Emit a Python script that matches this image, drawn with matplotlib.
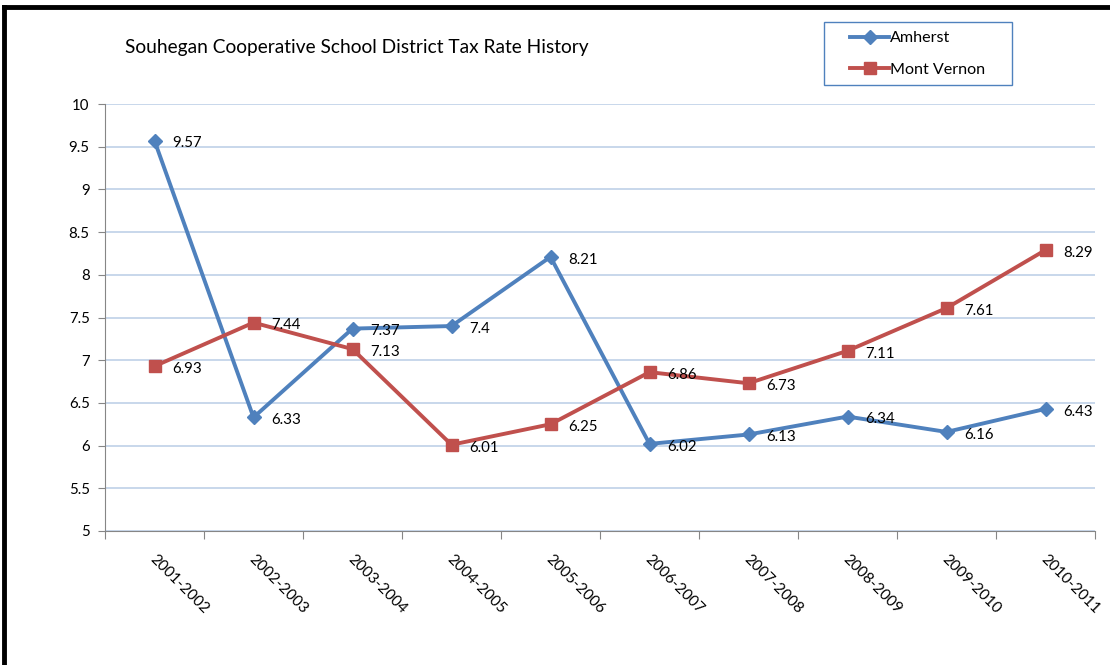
import matplotlib.pyplot as plt
import numpy as np
from matplotlib.lines import Line2D
from matplotlib.patches import Rectangle

plt.rcParams['font.family'] = ['Lato', 'DejaVu Sans']

years = ['2001-2002', '2002-2003', '2003-2004', '2004-2005', '2005-2006',
         '2006-2007', '2007-2008', '2008-2009', '2009-2010', '2010-2011']
amherst = [9.57, 6.33, 7.37, 7.4, 8.21, 6.02, 6.13, 6.34, 6.16, 6.43]
mont_vernon = [6.93, 7.44, 7.13, 6.01, 6.25, 6.86, 6.73, 7.11, 7.61, 8.29]

blue = '#4F81BD'
red = '#C0504D'

W, H = 1110, 665
fig = plt.figure(figsize=(W / 100, H / 100), dpi=100, facecolor='white')
ax = fig.add_axes([105 / W, 1 - 531 / H, 990 / W, 427 / H])

x = np.arange(len(years))
ax.set_xlim(-0.5, len(years) - 0.5)
ax.set_ylim(5, 10)
ax.set_yticks(np.arange(5, 10.01, 0.5))
ax.set_yticklabels(['5', '5.5', '6', '6.5', '7', '7.5', '8', '8.5', '9', '9.5', '10'])

# rejilla
ax.grid(True, axis='y', color='#B9CDE5', linewidth=1.1)
ax.set_axisbelow(True)
for s in ['top', 'right']:
    ax.spines[s].set_visible(False)
ax.spines['left'].set_color('#868686')
ax.spines['bottom'].set_color('#868686')
ax.tick_params(axis='y', length=5, color='#868686', labelsize=10.8, pad=6)

# ticks entre categorias
ax.set_xticks(np.arange(-0.5, len(years), 1.0))
ax.set_xticklabels([])
ax.tick_params(axis='x', length=6, color='#868686')
for i, lab in enumerate(years):
    ax.text(i + 0.03, -0.05, lab, transform=ax.get_xaxis_transform(), rotation=-45,
            rotation_mode='anchor', ha='left', va='top', fontsize=11)

ax.plot(x, amherst, color=blue, linewidth=2.8, marker='D', markersize=7, zorder=3)
ax.plot(x, mont_vernon, color=red, linewidth=2.8, marker='s', markersize=9, zorder=3)

for i in range(len(years)):
    ax.annotate(f'{amherst[i]:g}', (x[i], amherst[i]), xytext=(13, -2),
                textcoords='offset points', ha='left', va='center', fontsize=10.8)
    ax.annotate(f'{mont_vernon[i]:g}', (x[i], mont_vernon[i]), xytext=(13, -2),
                textcoords='offset points', ha='left', va='center', fontsize=10.8)

fig.text(125 / W, 1 - 48 / H, 'Souhegan Cooperative School District Tax Rate History',
         fontsize=13.8, ha='left', va='center')

# leyenda con caja propia
fig.add_artist(Rectangle((824 / W, 1 - 85 / H), 188 / W, 63 / H, transform=fig.transFigure,
                         facecolor='white', edgecolor=blue, linewidth=1.0))
handles = [Line2D([], [], color=blue, linewidth=2.8, marker='D', markersize=7),
           Line2D([], [], color=red, linewidth=2.8, marker='s', markersize=9)]
leg = fig.legend(handles, ['Amherst', 'Mont Vernon'], loc='upper left',
                 bbox_to_anchor=(850 / W, 1 - 31 / H), fontsize=11.6, frameon=False,
                 handlelength=2.45, handletextpad=0.05, borderpad=0,
                 labelspacing=1.08, borderaxespad=0)

# borde negro del grafico
fig.add_artist(Line2D([4 / W, 4 / W], [0, 1 - 7 / H], color='black', linewidth=3.5,
                      transform=fig.transFigure))
fig.add_artist(Line2D([4 / W, 1108 / W], [1 - 7 / H, 1 - 7 / H], color='black',
                      linewidth=3.5, transform=fig.transFigure))

plt.savefig('out.png', dpi=100, facecolor='white')
